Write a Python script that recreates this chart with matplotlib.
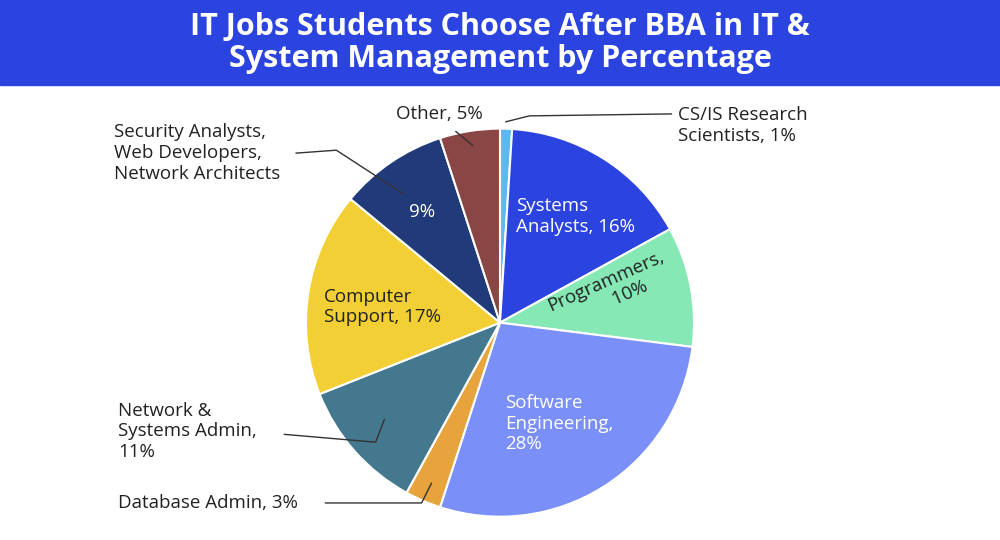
import matplotlib
matplotlib.use("Agg")
import matplotlib.pyplot as plt

labels = ["CS/IS Research Scientists", "Systems Analysts", "Programmers", "Software Engineering",
          "Database Admin", "Network & Systems Admin", "Computer Support",
          "Security Analysts, Web Developers, Network Architects", "Other"]
values = [1, 16, 10, 28, 3, 11, 17, 9, 5]
colors = ["#5bb8f0", "#2b44e0", "#86e8b4", "#7b8ff8", "#e8a43c", "#43788f", "#f2d035", "#213a7a", "#8a4545"]

plt.rcParams['font.family'] = ['Open Sans', 'DejaVu Sans']
fig = plt.figure(figsize=(10, 5.4), dpi=100)
fig.patches.append(plt.Rectangle((0, 1 - 85/540), 1, 85/540, transform=fig.transFigure,
                                 color="#2b44e0", zorder=0))
fig.text(0.5, 1 - 43/540, "IT Jobs Students Choose After BBA in IT &\nSystem Management by Percentage",
         ha="center", va="center", color="white", fontsize=22, fontweight="bold", linespacing=1.1)

ax = fig.add_axes([0.302, 0.036, 0.396, 0.733])
ax.pie(values, colors=colors, startangle=90, counterclock=False, radius=1,
       wedgeprops=dict(edgecolor="white", linewidth=1.5))
ax.set_xlim(-1.02, 1.02); ax.set_ylim(-1.02, 1.02)
ax.set_aspect("equal"); ax.axis("off")

R = 193 / 1.0
def d(px, py):
    return ((px - 500) / 198, (323 - py) / 198)

fs = 13.5
ax.text(*d(516, 215), "Systems\nAnalysts, 16%", color="white", fontsize=fs, ha="left", va="center")
ax.text(*d(612, 290), "Programmers,\n       10%", color="#222222",
        fontsize=fs, ha="center", va="center", rotation=24)
ax.text(*d(505, 426), "Software\nEngineering,\n28%", color="white", fontsize=fs, ha="left", va="center")
ax.text(*d(320, 307), "Computer\nSupport, 17%", color="#222222", fontsize=fs, ha="left", va="center")
ax.text(*d(420, 210), "9%", color="white", fontsize=fs, ha="center", va="center")

kw = dict(color="#222222", fontsize=fs, va="center", clip_on=False)
lk = dict(color="#333333", lw=1, clip_on=False)
ax.text(*d(394, 110), "Other, 5%", ha="left", **kw)
ax.plot(*zip(d(455, 128), d(472, 142)), **lk)
ax.text(*d(682, 122), "CS/IS Research\nScientists, 1%", ha="left", **kw)
ax.plot(*zip(d(506, 118), d(530, 112), d(675, 110)), **lk)
ax.text(*d(106, 150), "Security Analysts,\nWeb Developers,\nNetwork Architects", ha="left", **kw)
ax.plot(*zip(d(292, 150), d(333, 147), d(402, 192)), **lk)
ax.text(*d(110, 434), "Network &\nSystems Admin,\n11%", ha="left", **kw)
ax.plot(*zip(d(280, 437), d(373, 445), d(382, 422)), **lk)
ax.text(*d(110, 507), "Database Admin, 3%", ha="left", **kw)
ax.plot(*zip(d(322, 507), d(420, 507), d(430, 487)), **lk)

fig.savefig("out.png", dpi=100, facecolor="white")
